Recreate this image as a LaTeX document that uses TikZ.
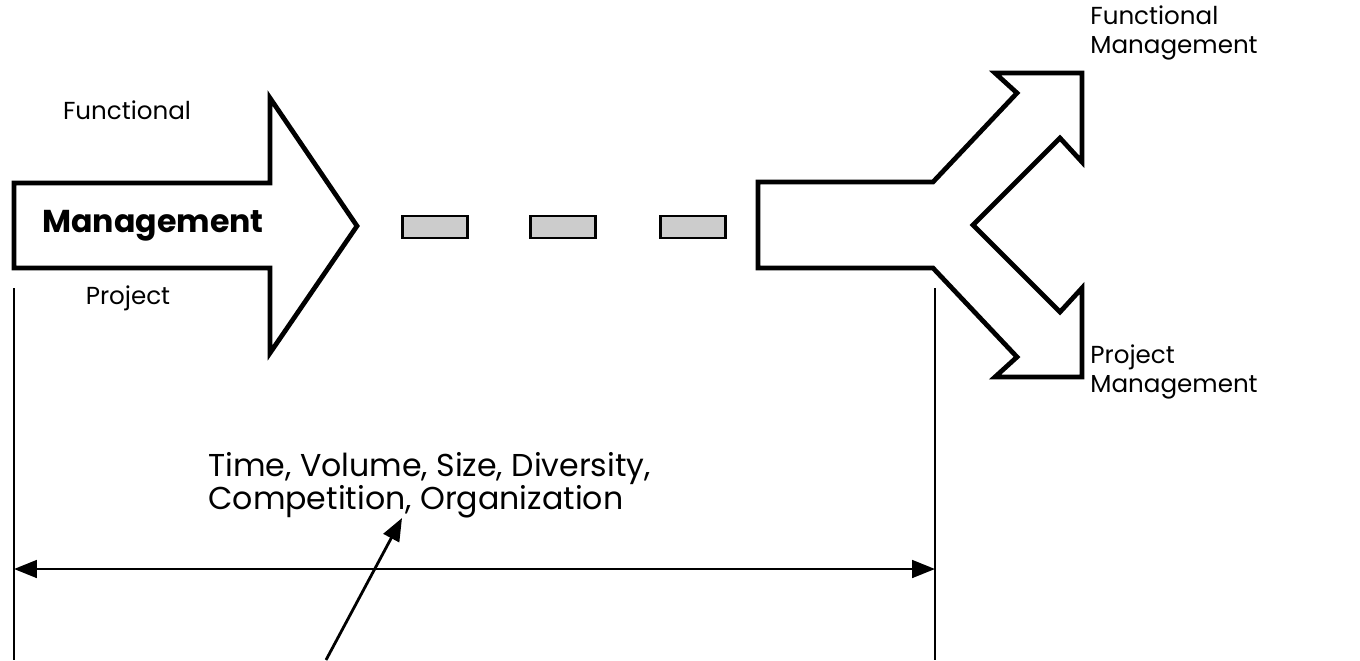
\documentclass[tikz,border=0pt]{standalone}
\usepackage{fontspec}
\setmainfont{Poppins}
\usetikzlibrary{arrows.meta}
\tikzset{
  bigarrow/.style={draw=black, line width=2.7pt, line join=miter, fill=white},
  lbl/.style={font=\fontsize{14}{17}\selectfont, inner sep=0pt},
  boldlbl/.style={font=\fontsize{18}{21}\selectfont\bfseries, inner sep=0pt},
  factors/.style={font=\fontsize{18}{19}\selectfont, inner sep=0pt, align=left},
  dashbox/.style={draw=black, line width=1.6pt, fill=gray!40, minimum width=1.3cm, minimum height=0.44cm, inner sep=0pt},
  guide/.style={line width=1.1pt},
  span/.style={line width=1.6pt, {Triangle[length=13pt,width=10pt]}-{Triangle[length=13pt,width=10pt]}},
  pointer/.style={line width=1.6pt, -{Triangle[length=13pt,width=10pt]}}
}
\begin{document}
\begin{tikzpicture}[x=0.02cm,y=-0.02cm]
\useasboundingbox (0,0) rectangle (1360,660);

% incoming arrow
\draw[bigarrow] (14,183) -- (270,183) -- (270,98) -- (357,226) -- (270,353)
  -- (270,268) -- (14,268) -- cycle;
\node[boldlbl] (mgmt) at (153,226) {Management};
\node[lbl] (funcL) at (127,110) {Functional};
\node[lbl] (projL) at (128,298) {Project};

% dashes between the arrows
\node[dashbox] (d1) at (435,227) {};
\node[dashbox] (d2) at (563,227) {};
\node[dashbox] (d3) at (693,227) {};

% forked arrow
\draw[bigarrow] (758,182) -- (933,182) -- (1017,93) -- (995,73) -- (1082,73)
  -- (1082,162) -- (1060,138) -- (973,225) -- (1060,312) -- (1082,288)
  -- (1082,377) -- (995,377) -- (1017,357) -- (933,268) -- (758,268) -- cycle;
\node[lbl, anchor=west, align=left] (funcR) at (1090,33) {Functional\\Management};
\node[lbl, anchor=west, align=left] (projR) at (1090,372) {Project\\Management};

% span of the transition
\coordinate (gl) at (14,288);
\coordinate (gl2) at (14,660);
\coordinate (gr) at (935,288);
\coordinate (gr2) at (935,660);
\draw[guide] (gl) -- (gl2);
\draw[guide] (gr) -- (gr2);
\coordinate (sl) at (14,569);
\coordinate (sr) at (935,569);
\draw[span] (sl) -- (sr);

\node[factors, anchor=north west] (fac) at (208,452) {Time, Volume, Size, Diversity,\\Competition, Organization};
\coordinate (pfoot) at (326,660);
\coordinate (ptip) at (402,518);
\draw[pointer] (pfoot) -- (ptip);
\end{tikzpicture}
\end{document}
